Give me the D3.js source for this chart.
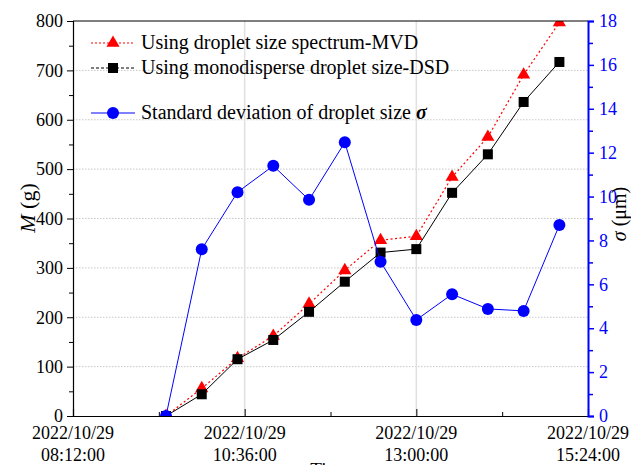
<!DOCTYPE html>
<html>
<head>
<meta charset="utf-8">
<script src="https://cdn.jsdelivr.net/npm/d3@7"></script>
<style>
  html, body { margin: 0; padding: 0; background: #fff; }
  svg { display: block; }
  svg text { font-family: "Liberation Serif", "Times New Roman", serif; }
</style>
</head>
<body>
<svg id="chart" width="631" height="465"></svg>
<script>
// Sampling times (every 30 min on 2022-10-29)
const times = ["09:30", "10:00", "10:30", "11:00", "11:30", "12:00",
               "12:30", "13:00", "13:30", "14:00", "14:30", "15:00"];
// Accumulated mass M (g)
const massMVD = [0, 56, 117, 162, 227, 295, 356, 364, 484, 565, 691, 797];
const massDSD = [0, 44, 115, 154, 211, 272, 331, 338, 452, 530, 636, 717];
// Standard deviation of droplet size σ (µm)
const sigma = [0, 7.6, 10.2, 11.4, 9.85, 12.47, 7.03, 4.38, 5.55, 4.88, 4.79, 8.7];
// Axis ticks
const xTickTimes = ["08:12", "10:36", "13:00", "15:24"];
const xMinorTimes = ["09:24", "11:48", "14:12"];
const mTicks = [0, 100, 200, 300, 400, 500, 600, 700, 800];
const sTicks = [0, 2, 4, 6, 8, 10, 12, 14, 16, 18];

const day = "2022-10-29";
const parseT = d3.timeParse("%Y-%m-%d %H:%M");
const toDate = t => parseT(day + " " + t);

const svg = d3.select("#chart");
const L = 73, R = 588, T = 21, B = 416;

const x = d3.scaleTime().domain([toDate("08:12"), toDate("15:24")]).range([L, R]);
const yM = d3.scaleLinear().domain([0, 800]).range([B, T]);
const yS = d3.scaleLinear().domain([0, 18]).range([B, T]);

// Grid lines
const grid = svg.append("g");
grid.selectAll("line.h").data(mTicks.filter(v => v > 0 && v < 800)).join("line")
  .attr("x1", L).attr("x2", R)
  .attr("y1", d => yM(d)).attr("y2", d => yM(d))
  .attr("stroke", "#c8c8c8").attr("stroke-width", 1).attr("stroke-dasharray", "1.5,1.5");
grid.selectAll("line.v").data(xTickTimes.slice(1, 3)).join("line")
  .attr("x1", d => x(toDate(d))).attr("x2", d => x(toDate(d)))
  .attr("y1", T).attr("y2", B)
  .attr("stroke", "#e0e0e0").attr("stroke-width", 1.5);

// Clip to plot area
svg.append("clipPath").attr("id", "plotClip")
  .append("rect").attr("x", L).attr("y", T).attr("width", R - L).attr("height", B - T);
const plot = svg.append("g").attr("clip-path", "url(#plotClip)");

const dates = times.map(toDate);

// MVD series (red dotted, triangles)
const lineM = d3.line().x((d, i) => x(dates[i])).y(d => yM(d));
plot.append("path").datum(massMVD).attr("d", lineM)
  .attr("fill", "none").attr("stroke", "#ff0000").attr("stroke-width", 1.2)
  .attr("stroke-dasharray", "2,2.5");
const tri = d3.symbol().type(d3.symbolTriangle).size(75);
plot.selectAll("path.tri").data(massMVD).join("path")
  .attr("d", tri).attr("fill", "#ff0000")
  .attr("transform", (d, i) => `translate(${x(dates[i])},${yM(d)})`);

// DSD series (black, squares)
plot.append("path").datum(massDSD).attr("d", lineM)
  .attr("fill", "none").attr("stroke", "#000").attr("stroke-width", 1);
plot.selectAll("rect.sq").data(massDSD).join("rect")
  .attr("x", (d, i) => x(dates[i]) - 5).attr("y", d => yM(d) - 5)
  .attr("width", 10).attr("height", 10).attr("fill", "#000");

// σ series (blue, circles)
const lineS = d3.line().x((d, i) => x(dates[i])).y(d => yS(d));
plot.append("path").datum(sigma).attr("d", lineS)
  .attr("fill", "none").attr("stroke", "#0000ff").attr("stroke-width", 1);
plot.selectAll("circle.c").data(sigma).join("circle")
  .attr("cx", (d, i) => x(dates[i])).attr("cy", d => yS(d))
  .attr("r", 6).attr("fill", "#0000ff");

// Frame top line
svg.append("line").attr("x1", L).attr("x2", R).attr("y1", T).attr("y2", T)
  .attr("stroke", "#000").attr("stroke-width", 1.2);

// Left axis
const axL = svg.append("g").attr("transform", `translate(${L},0)`)
  .call(d3.axisLeft(yM).tickValues(mTicks).tickSize(6).tickPadding(4).tickFormat(d3.format("d")));
axL.attr("font-family", null);
axL.select(".domain").attr("stroke", "#000").attr("stroke-width", 1.2);
axL.selectAll("text").attr("font-size", 18).attr("fill", "#000");
svg.append("g").attr("transform", `translate(${L},0)`)
  .call(d3.axisLeft(yM).tickValues(d3.range(50, 800, 100)).tickSize(4).tickFormat(""))
  .select(".domain").remove();

// Bottom axis (ticks inward)
const xTickDates = xTickTimes.map(toDate);
const axB = svg.append("g").attr("transform", `translate(0,${B})`)
  .call(d3.axisBottom(x).tickValues(xTickDates).tickSize(-7).tickFormat(""));
axB.select(".domain").attr("stroke", "#000").attr("stroke-width", 1.2);
svg.append("g").attr("transform", `translate(0,${B})`)
  .call(d3.axisBottom(x).tickValues(xMinorTimes.map(toDate)).tickSize(-4).tickFormat(""))
  .select(".domain").remove();
const fmtD = d3.timeFormat("%Y/%m/%d"), fmtH = d3.timeFormat("%H:%M:%S");
const xl = svg.append("g").selectAll("text").data(xTickDates).join("text")
  .attr("x", d => x(d)).attr("text-anchor", "middle")
  .attr("font-size", 18).attr("fill", "#000");
xl.append("tspan").attr("x", d => x(d)).attr("y", 439).text(d => fmtD(d));
xl.append("tspan").attr("x", d => x(d)).attr("y", 461).text(d => fmtH(d));

// Right axis (blue)
const axR = svg.append("g").attr("transform", `translate(${R},0)`)
  .call(d3.axisRight(yS).tickValues(sTicks).tickSize(6).tickPadding(5));
axR.attr("font-family", null);
axR.select(".domain").attr("stroke", "#0000ff").attr("stroke-width", 2);
axR.selectAll(".tick line").attr("stroke", "#0000ff").attr("stroke-width", 1.5);
axR.selectAll("text").attr("font-size", 18).attr("fill", "#0000ff");
const axR2 = svg.append("g").attr("transform", `translate(${R},0)`)
  .call(d3.axisRight(yS).tickValues(d3.range(1, 18, 2)).tickSize(5).tickFormat(""));
axR2.select(".domain").remove();
axR2.selectAll(".tick line").attr("stroke", "#0000ff").attr("stroke-width", 1.5);

// Axis titles
const tM = svg.append("text").attr("transform", "translate(35,208) rotate(-90)")
  .attr("text-anchor", "middle").attr("font-size", 22).attr("fill", "#000");
tM.append("tspan").attr("font-style", "italic").text("M");
tM.append("tspan").text(" (g)");

const tS = svg.append("text").attr("transform", "translate(626,214) rotate(-90)")
  .attr("text-anchor", "middle").attr("font-size", 20).attr("fill", "#000");
tS.append("tspan").attr("font-style", "italic").text("σ");
tS.append("tspan").text(" (μm)");

svg.append("text").attr("x", 330).attr("y", 476).attr("text-anchor", "middle")
  .attr("font-size", 19).attr("fill", "#000").text("Time");

// Legend
const lg = svg.append("g");
const lx1 = 91, lx2 = 135, lxm = 113, ltx = 141;
const rows = [
  { y: 43, color: "#ff0000", dash: "2,2", shape: "tri", label: "Using droplet size spectrum-MVD" },
  { y: 68, color: "#000", dash: "3,2", shape: "sq", label: "Using monodisperse droplet size-DSD" },
  { y: 113, color: "#0000ff", dash: null, shape: "circ", label: "Standard deviation of droplet size " }
];
rows.forEach(r => {
  lg.append("line").attr("x1", lx1).attr("x2", lx2).attr("y1", r.y).attr("y2", r.y)
    .attr("stroke", r.color).attr("stroke-width", 1).attr("stroke-dasharray", r.dash);
  if (r.shape === "tri") {
    lg.append("path").attr("d", tri).attr("fill", r.color).attr("transform", `translate(${lxm},${r.y})`);
  } else if (r.shape === "sq") {
    lg.append("rect").attr("x", lxm - 5).attr("y", r.y - 5).attr("width", 10).attr("height", 10).attr("fill", r.color);
  } else {
    lg.append("circle").attr("cx", lxm).attr("cy", r.y).attr("r", 6).attr("fill", r.color);
  }
  const t = lg.append("text").attr("x", ltx).attr("y", r.y + 6).attr("font-size", 20).attr("fill", "#000").text(r.label);
  if (r.shape === "circ") t.append("tspan").attr("font-weight", "bold").attr("font-style", "italic").text("σ");
});
</script>
</body>
</html>
